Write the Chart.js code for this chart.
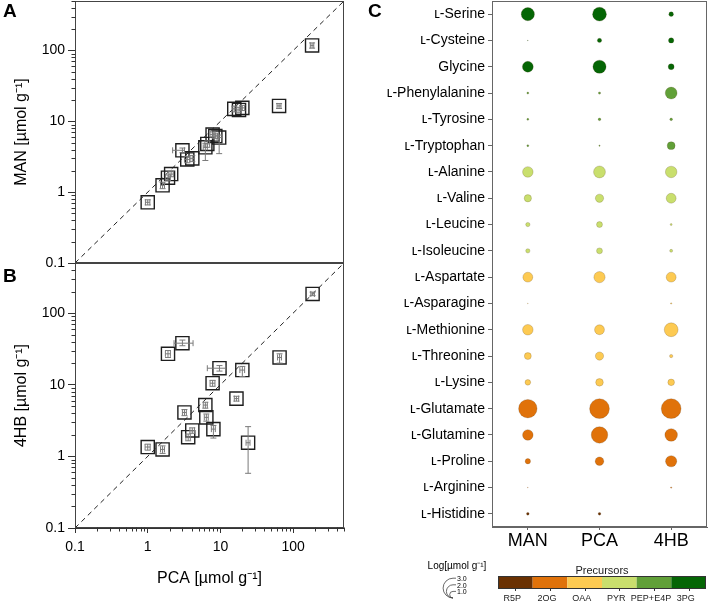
<!DOCTYPE html>
<html>
<head>
<meta charset="utf-8">
<script src="https://cdn.jsdelivr.net/npm/chart.js@4.4.1/dist/chart.umd.min.js"></script>
<style>
  body { margin: 0; background: #fff; }
  #page { position: relative; width: 708px; height: 604px; overflow: hidden; font-family: 'Liberation Sans', Arial, sans-serif; }
  canvas { position: absolute; }
  .tag { position: absolute; font-weight: bold; font-size: 19px; line-height: 20px; color: #000; }
</style>
</head>
<body>
<div id="page">
  <canvas id="chartA" width="346" height="282" style="left:0;top:0"></canvas>
  <canvas id="chartB" width="346" height="342" style="left:0;top:262px"></canvas>
  <canvas id="chartC" width="408" height="604" style="left:300px;top:0"></canvas>
  <div class="tag" style="left:3px;top:1px">A</div>
  <div class="tag" style="left:3px;top:266px">B</div>
  <div class="tag" style="left:368px;top:1px">C</div>
</div>
<script>
// panel A: MAN vs PCA (µmol/g)
const pcaA   = [1.0, 1.6, 1.9, 2.1, 3.0, 3.5, 4.1, 6.2, 6.6, 7.8, 8.5, 9.6, 15.5, 18, 20, 64, 182];
const manA   = [0.72, 1.25, 1.6, 1.8, 3.9, 2.9, 3.0, 4.3, 4.8, 6.5, 6.2, 5.9, 15, 14.5, 15.5, 16.5, 118];
const pcaLoA = [0.93, 1.5, 1.75, 1.95, 2.2, 3.2, 3.8, 5.8, 6.1, 7.2, 7.9, 9.0, 14.5, 16.8, 18.5, 60, 172];
const pcaHiA = [1.07, 1.7, 2.05, 2.25, 3.2, 3.8, 4.4, 6.6, 7.1, 8.4, 9.1, 10.5, 16.5, 19.2, 21.5, 68, 192];
const manLoA = [0.66, 1.12, 1.45, 1.65, 3.6, 2.6, 2.7, 2.8, 4.3, 6.0, 5.7, 3.5, 13.6, 13.2, 14.2, 15.2, 108];
const manHiA = [0.78, 1.38, 1.75, 1.95, 4.2, 3.2, 3.3, 4.9, 5.3, 7.1, 6.8, 6.4, 16.4, 15.8, 16.8, 17.8, 128];

// panel B: 4HB vs PCA
const pcaB   = [1.0, 1.6, 1.9, 3.0, 3.2, 3.6, 4.1, 6.2, 6.4, 8.0, 7.8, 9.7, 16.6, 20, 24, 65, 185];
const hbB    = [1.35, 1.25, 27, 38, 4.1, 1.85, 2.3, 5.2, 3.5, 2.4, 10.5, 17, 6.4, 16, 1.55, 24, 185];
const pcaLoB = [0.92, 1.5, 1.75, 2.3, 3.0, 3.35, 3.8, 5.8, 6.0, 7.5, 7.2, 6.6, 15.5, 18.5, 22.5, 61, 175];
const pcaHiB = [1.08, 1.7, 2.05, 4.2, 3.4, 3.85, 4.4, 6.6, 6.8, 8.5, 8.4, 11.8, 17.8, 21.5, 25.5, 69, 196];
const hbLoB  = [1.22, 1.1, 24, 35, 3.7, 1.65, 2.1, 4.7, 3.1, 1.8, 9.5, 15.5, 5.9, 13, 0.58, 20, 175];
const hbHiB  = [1.48, 1.4, 30, 42, 4.5, 2.05, 2.5, 5.7, 3.9, 2.7, 11.5, 18.5, 6.9, 18, 2.6, 27, 196];

const majorTicks = [0.1, 1, 10, 100];
const majorLabels = ['0.1', '1', '10', '100'];

// panel C: amino acids, precursor group, bubble size in Log[µmol g-1]
const aminoAcids = ['ʟ-Serine', 'ʟ-Cysteine', 'Glycine', 'ʟ-Phenylalanine', 'ʟ-Tyrosine', 'ʟ-Tryptophan',
  'ʟ-Alanine', 'ʟ-Valine', 'ʟ-Leucine', 'ʟ-Isoleucine', 'ʟ-Aspartate', 'ʟ-Asparagine', 'ʟ-Methionine',
  'ʟ-Threonine', 'ʟ-Lysine', 'ʟ-Glutamate', 'ʟ-Glutamine', 'ʟ-Proline', 'ʟ-Arginine', 'ʟ-Histidine'];
const precursorIdx = [5, 5, 5, 4, 4, 4, 3, 3, 3, 3, 2, 2, 2, 2, 2, 1, 1, 1, 1, 0];
const precursors = ['R5P', '2OG', 'OAA', 'PYR', 'PEP+E4P', '3PG'];
const precursorColors = ['#6a3102', '#e0720a', '#fdca52', '#c9df6d', '#61a038', '#056605'];
const samples = ['MAN', 'PCA', '4HB'];
const logMAN = [2.0, 0.1, 1.65, 0.3, 0.3, 0.3, 1.6, 1.1, 0.65, 0.65, 1.5, 0.1, 1.6, 1.05, 0.85, 2.8, 1.6, 0.8, 0.1, 0.4];
const logPCA = [2.1, 0.65, 2.0, 0.35, 0.4, 0.2, 1.8, 1.25, 0.9, 0.9, 1.7, null, 1.5, 1.25, 1.15, 3.0, 2.5, 1.3, null, 0.4];
const log4HB = [0.7, 0.8, 0.9, 1.8, 0.4, 1.2, 1.75, 1.5, 0.3, 0.45, 1.5, 0.2, 2.1, 0.5, 1.0, 3.0, 1.9, 1.7, 0.2, null];
const legendLogs = [3.0, 2.0, 1.0];

const FONT = "'Liberation Sans', Arial, sans-serif";
const R_PER_LOG = 3.3;
Chart.defaults.font.family = FONT;
Chart.defaults.color = '#000';

// all log ticks: decades plus the minor 2..9 steps, up to 500
const logTickValues = [];
[0.1, 1, 10, 100].forEach(d => {
  for (let k = 1; k <= 9; k++) {
    const v = +(d * k).toPrecision(3);
    if (v <= 500) logTickValues.push(v);
  }
});

function fixY(w) {
  return s => { s.width = w; s.paddingTop = 0; s.paddingBottom = 0; };
}
function fixX(h) {
  return s => { s.height = s.options.display ? h : 0; s.paddingLeft = 0; s.paddingRight = 0; };
}

const frame = {
  id: 'frame',
  afterDraw(chart, args, opts) {
    const { ctx, chartArea: a } = chart;
    ctx.save();
    ctx.strokeStyle = opts.color || '#333';
    ctx.lineWidth = 1;
    const l = Math.round(a.left) + 0.5, t = Math.round(a.top) + 0.5;
    const r = Math.round(a.right) - 0.5, b = Math.round(a.bottom) - 0.5;
    ctx.strokeRect(l, t, r - l, b - t);
    // short minor ticks
    Object.values(chart.scales).forEach(s => {
      if (!s.options.display || chart.config.type === 'bubble') return;
      ctx.strokeStyle = '#333';
      s.ticks.forEach(tk => {
        if (tk.major) return;
        const p = Math.round(s.getPixelForValue(tk.value)) + 0.5;
        ctx.beginPath();
        if (s.isHorizontal()) { ctx.moveTo(p, b); ctx.lineTo(p, b + 4); }
        else { ctx.moveTo(l, p); ctx.lineTo(l - 4, p); }
        ctx.stroke();
      });
    });
    ctx.restore();
  }
};

const errbars = {
  id: 'errbars',
  afterDatasetsDraw(chart, args, opts) {
    if (!opts.xLo) return;
    const { ctx } = chart;
    const xs = chart.scales.x, ys = chart.scales.y;
    const pts = chart.data.datasets[1].data;
    ctx.save();
    ctx.strokeStyle = '#7a7a7a';
    ctx.lineWidth = 1;
    pts.forEach((p, i) => {
      const px = xs.getPixelForValue(p.x), py = ys.getPixelForValue(p.y);
      const x0 = xs.getPixelForValue(opts.xLo[i]), x1 = xs.getPixelForValue(opts.xHi[i]);
      const y0 = ys.getPixelForValue(opts.yLo[i]), y1 = ys.getPixelForValue(opts.yHi[i]);
      ctx.beginPath();
      ctx.moveTo(x0, py); ctx.lineTo(x1, py);
      ctx.moveTo(x0, py - 3); ctx.lineTo(x0, py + 3);
      ctx.moveTo(x1, py - 3); ctx.lineTo(x1, py + 3);
      ctx.moveTo(px, y0); ctx.lineTo(px, y1);
      ctx.moveTo(px - 3, y0); ctx.lineTo(px + 3, y0);
      ctx.moveTo(px - 3, y1); ctx.lineTo(px + 3, y1);
      ctx.stroke();
    });
    ctx.restore();
  }
};

function logAxis(showTitle, title, isY) {
  return {
    type: 'logarithmic', min: 0.1, max: 500,
    afterBuildTicks: s => { s.ticks = logTickValues.map(v => ({ value: v, major: majorTicks.includes(v) })); },
    afterFit: isY ? fixY(75) : fixX(76),
    ticks: {
      autoSkip: false, maxRotation: 0, padding: isY ? 3 : 6, color: '#000', font: { size: 14 },
      callback: v => { const i = majorTicks.indexOf(v); return i >= 0 ? majorLabels[i] : ''; }
    },
    grid: {
      drawOnChartArea: false, tickLength: isY ? 7 : 5, tickWidth: 1,
      tickColor: c => (c.tick && c.tick.major ? '#333' : 'rgba(0,0,0,0)')
    },
    border: { color: '#333', width: 1 },
    title: {
      display: showTitle, text: title, color: '#000', font: { size: 16 },
      padding: isY ? { top: 12, bottom: 0 } : { top: 0, bottom: 16 }
    }
  };
}

function makeScatter(id, xs, ys, xLo, xHi, yLo, yHi, yTitle, showX, pad) {
  return new Chart(document.getElementById(id), {
    type: 'scatter',
    data: {
      datasets: [
        {
          type: 'line', data: [{ x: 0.1, y: 0.1 }, { x: 500, y: 500 }],
          borderColor: '#222', borderWidth: 1, borderDash: [5, 4], pointRadius: 0
        },
        {
          data: xs.map((x, i) => ({ x: x, y: ys[i] })),
          pointStyle: 'rect', pointRadius: 9.3, borderColor: '#1e1e1e', borderWidth: 1.4,
          backgroundColor: 'rgba(0,0,0,0)'
        }
      ]
    },
    options: {
      responsive: false, animation: false, events: [],
      layout: { autoPadding: false, padding: pad },
      plugins: { legend: { display: false }, tooltip: { enabled: false },
        frame: { color: '#444' }, errbars: { xLo, xHi, yLo, yHi } },
      scales: {
        x: Object.assign(logAxis(showX, 'PCA [µmol g⁻¹]', false), { display: showX }),
        y: logAxis(true, yTitle, true)
      }
    },
    plugins: [frame, errbars]
  });
}

makeScatter('chartA', pcaA, manA, pcaLoA, pcaHiA, manLoA, manHiA, 'MAN [µmol g⁻¹]', false,
  { top: 1, right: 2, bottom: 19, left: 0 });
makeScatter('chartB', pcaB, hbB, pcaLoB, pcaHiB, hbLoB, hbHiB, '4HB [µmol g⁻¹]', true,
  { top: 1, right: 2, bottom: 0, left: 0 });

// bubble legend + precursor colour bar under panel C
const bubbleLegend = {
  id: 'bubbleLegend',
  afterDraw(chart) {
    const ctx = chart.ctx;
    ctx.save();
    ctx.fillStyle = '#000';
    ctx.textAlign = 'center';
    ctx.textBaseline = 'middle';
    ctx.font = '10px ' + FONT;
    ctx.fillText('Log[µmol g⁻¹]', 157, 566);
    // nested size circles
    const cx = 153, bottom = 598;
    ctx.strokeStyle = '#444';
    ctx.lineWidth = 0.8;
    ctx.font = '7px ' + FONT;
    ctx.textAlign = 'left';
    legendLogs.forEach(v => {
      const r = v * R_PER_LOG;
      ctx.beginPath();
      ctx.arc(cx, bottom - r, r, -Math.PI / 2, Math.PI / 2, true);
      ctx.stroke();
      ctx.beginPath();
      ctx.moveTo(cx, bottom - 2 * r); ctx.lineTo(cx + 3, bottom - 2 * r);
      ctx.stroke();
      ctx.fillText(v.toFixed(1), cx + 4, bottom - 2 * r + 1);
    });
    // colour bar
    const x0 = 198, x1 = 406, y0 = 576, y1 = 588;
    const w = (x1 - x0) / precursors.length;
    precursors.forEach((p, i) => {
      ctx.fillStyle = precursorColors[i];
      ctx.fillRect(x0 + i * w, y0, w, y1 - y0);
    });
    ctx.strokeStyle = '#333';
    ctx.lineWidth = 1;
    ctx.strokeRect(x0 + 0.5, y0 + 0.5, x1 - x0 - 1, y1 - y0);
    ctx.fillStyle = '#222';
    ctx.textAlign = 'center';
    ctx.font = '11px ' + FONT;
    ctx.fillText('Precursors', (x0 + x1) / 2, 571);
    ctx.font = '9px ' + FONT;
    precursors.forEach((p, i) => {
      const c = x0 + (i + 0.5) * w;
      ctx.beginPath();
      ctx.moveTo(Math.round(c) + 0.5, y1); ctx.lineTo(Math.round(c) + 0.5, y1 + 3);
      ctx.stroke();
      ctx.fillText(p, c - 3, 599);
    });
    ctx.restore();
  }
};

const sampleSizes = [logMAN, logPCA, log4HB];
new Chart(document.getElementById('chartC'), {
  type: 'bubble',
  data: {
    datasets: samples.map((s, si) => ({
      label: s,
      data: aminoAcids.map((a, i) => ({ x: si, y: i, r: sampleSizes[si][i] == null ? 0 : sampleSizes[si][i] * R_PER_LOG }))
        .filter((d, i) => sampleSizes[si][i] != null),
      backgroundColor: c => precursorColors[precursorIdx[c.raw.y]],
      borderColor: 'rgba(80,60,30,0.35)',
      borderWidth: 0.6
    }))
  },
  options: {
    responsive: false, animation: false, events: [],
    layout: { autoPadding: false, padding: { top: 1, right: 1, bottom: 0, left: 0 } },
    plugins: { legend: { display: false }, tooltip: { enabled: false }, frame: { color: '#666' } },
    scales: {
      x: {
        type: 'linear', min: -0.5, max: 2.5,
        afterBuildTicks: s => { s.ticks = samples.map((n, i) => ({ value: i })); },
        afterFit: fixX(77),
        ticks: { autoSkip: false, maxRotation: 0, padding: 0, font: { size: 18 }, color: '#000',
          callback: v => samples[v] },
        grid: { drawOnChartArea: false, tickLength: 3, tickColor: '#666' },
        border: { color: '#666' }
      },
      y: {
        type: 'linear', min: -0.5, max: 19.5, reverse: true,
        afterBuildTicks: s => { s.ticks = aminoAcids.map((n, i) => ({ value: i })); },
        afterFit: fixY(192),
        ticks: { autoSkip: false, padding: 3, font: { size: 14 }, color: '#000',
          callback: v => aminoAcids[v] },
        grid: { drawOnChartArea: false, tickLength: 4, tickColor: '#666' },
        border: { color: '#666' }
      }
    }
  },
  plugins: [frame, bubbleLegend]
});
</script>
</body>
</html>
